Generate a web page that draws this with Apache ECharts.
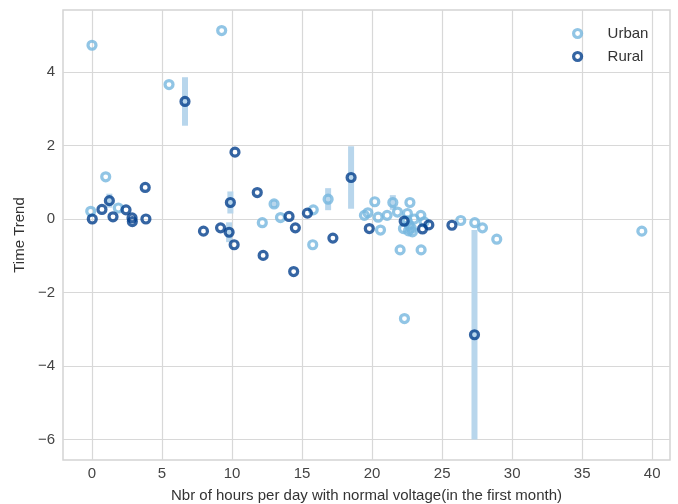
<!DOCTYPE html>
<html>
<head>
<meta charset="utf-8">
<script src="https://cdn.jsdelivr.net/npm/echarts@6/dist/echarts.min.js"></script>
<style>
    html, body { margin: 0; padding: 0; background: #fff; }
    #chart { width: 678px; height: 504px; }
</style>
</head>
<body>
<div id="chart"></div>
<script>
    // hours per day with normal voltage / time trend
    let urbanX = [0.0, 9.26, 5.5, 0.98, -0.09, 1.88, 12.16, 13.0, 13.46, 15.8, 16.86, 15.76,
        20.19, 21.48, 22.7, 19.45, 20.43, 20.6, 21.07, 21.81, 22.52, 22.64, 22.88, 23.48,
        23.71, 22.24, 22.0, 23.5, 19.7, 22.31, 26.33, 27.33, 27.88, 28.9, 39.26,
        22.5, 22.8, 22.6, 23.0]
    let urbanY = [4.73, 5.13, 3.66, 1.15, 0.21, 0.3, -0.1, 0.41, 0.04, 0.25, 0.54, -0.7,
        0.47, 0.45, 0.45, 0.1, 0.05, -0.3, 0.1, 0.19, 0.15, -0.17, -0.35, 0.1,
        -0.08, -0.26, -0.84, -0.84, 0.17, -2.71, -0.04, -0.1, -0.24, -0.55, -0.33,
        -0.05, -0.25, -0.32, 0.0]
    let urbanErr = [0, 0, 0, 0, 0, 0, 0, 0.1, 0, 0, 0.3, 0,
        0, 0.2, 0, 0, 0, 0, 0, 0, 0, 0, 0, 0,
        0, 0, 0, 0, 0, 0, 0, 0, 0, 0, 0,
        0, 0, 0, 0]

    let ruralX = [6.64, 10.21, 3.8, 11.8, 9.88, 1.24, 0.71, 2.43, 0.02, 1.5, 2.86, 2.88,
        3.85, 7.96, 9.18, 9.79, 10.15, 14.07, 14.52, 15.38, 17.2, 12.22, 14.4, 18.5,
        19.8, 22.29, 23.6, 24.05, 25.7, 27.31]
    let ruralY = [3.2, 1.82, 0.86, 0.72, 0.45, 0.5, 0.26, 0.25, 0.0, 0.06, 0.03, -0.07,
        0.0, -0.33, -0.24, -0.36, -0.7, 0.07, -0.24, 0.16, -0.52, -0.99, -1.43, 1.13,
        -0.26, -0.06, -0.27, -0.16, -0.17, -3.15]
    let ruralErr = [0.66, 0, 0, 0, 0.3, 0.19, 0, 0, 0, 0, 0, 0,
        0, 0, 0, 0.27, 0, 0, 0, 0, 0, 0, 0, 0.85,
        0, 0, 0, 0, 0, 2.85]

    let xTicks = [0, 5, 10, 15, 20, 25, 30, 35, 40]
    let yTicks = [-6, -4, -2, 0, 2, 4]

    const urbanColor = '#76b6de'
    const ruralColor = '#023e8c'
    const barColor = '#b8d6ec'
    const font = 'Liberation Sans, Arial, sans-serif'

    let myChart = echarts.init(document.getElementById('chart'))

    let errData = []
    urbanX.forEach((x, i) => {
        if (urbanErr[i] > 0) errData.push([x, urbanY[i] - urbanErr[i], urbanY[i] + urbanErr[i]])
    })
    ruralX.forEach((x, i) => {
        if (ruralErr[i] > 0) errData.push([x, ruralY[i] - ruralErr[i], ruralY[i] + ruralErr[i]])
    })

    let pointStyle = (c) => ({
        color: 'rgba(255,255,255,0)',
        borderColor: c,
        borderWidth: 3.2
    })

    let option = {
        animation: false,
        backgroundColor: '#fff',
        textStyle: { fontFamily: font },
        grid: {
            left: 63,
            right: 8,
            top: 10,
            bottom: 44,
            outerBoundsMode: 'none',
            containLabel: false,
            show: true,
            borderColor: '#d4d4d4',
            borderWidth: 1.5
        },
        legend: {
            orient: 'vertical',
            left: 567,
            top: 21,
            itemWidth: 50,
            itemHeight: 8,
            itemGap: 8,
            data: ['Urban', 'Rural'],
            itemStyle: { borderWidth: 3.2 },
            textStyle: { color: '#333', fontSize: 15, fontFamily: font }
        },
        xAxis: {
            type: 'value',
            min: -2.07,
            max: 41.27,
            name: 'Nbr of hours per day with normal voltage(in the first month)',
            nameLocation: 'middle',
            nameGap: 28,
            nameTextStyle: { color: '#333', fontSize: 15 },
            axisLine: { show: false },
            axisTick: { show: false, customValues: xTicks },
            axisLabel: { customValues: xTicks, color: '#444', fontSize: 15, margin: 6 },
            splitLine: { show: true, lineStyle: { color: '#d8d8d8', width: 1.2 } }
        },
        yAxis: {
            type: 'value',
            min: -6.56,
            max: 5.69,
            name: 'Time Trend',
            nameLocation: 'middle',
            nameGap: 33,
            nameTextStyle: { color: '#333', fontSize: 15 },
            axisLine: { show: false },
            axisTick: { show: false, customValues: yTicks },
            axisLabel: {
                customValues: yTicks,
                color: '#444',
                fontSize: 15,
                margin: 8,
                formatter: (v) => String(v).replace('-', '\u2212')
            },
            splitLine: { show: true, lineStyle: { color: '#d8d8d8', width: 1.2 } }
        },
        series: [
            {
                name: 'errors',
                type: 'custom',
                z: 1,
                silent: true,
                data: errData,
                renderItem: (params, api) => {
                    let top = api.coord([api.value(0), api.value(2)])
                    let bottom = api.coord([api.value(0), api.value(1)])
                    return {
                        type: 'line',
                        shape: { x1: top[0], y1: top[1], x2: bottom[0], y2: bottom[1] },
                        style: { stroke: barColor, lineWidth: 6, lineCap: 'butt' }
                    }
                }
            },
            {
                name: 'Urban',
                type: 'scatter',
                z: 2,
                symbol: 'circle',
                symbolSize: 8,
                itemStyle: pointStyle(urbanColor),
                data: urbanX.map((x, i) => [x, urbanY[i]])
            },
            {
                name: 'Rural',
                type: 'scatter',
                z: 3,
                symbol: 'circle',
                symbolSize: 8,
                itemStyle: pointStyle(ruralColor),
                data: ruralX.map((x, i) => [x, ruralY[i]])
            }
        ]
    }
    myChart.setOption(option)
</script>
</body>
</html>
